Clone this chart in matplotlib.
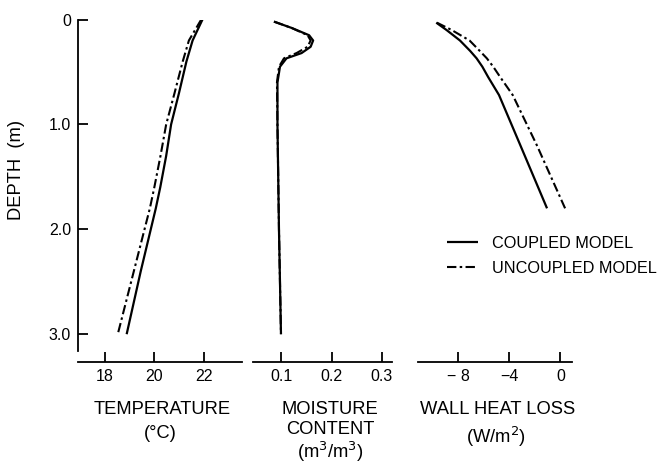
import matplotlib
matplotlib.use("Agg")
import matplotlib.pyplot as plt

plt.rcParams['font.family'] = ['Liberation Sans', 'DejaVu Sans']

# ---- data ----
depth_T = [0.0, 0.1, 0.2, 0.4, 0.7, 1.0, 1.3, 1.6, 1.8, 2.4, 3.0]
T_coupled = [21.95, 21.75, 21.55, 21.3, 21.0, 20.68, 20.48, 20.24, 20.06, 19.45, 18.88]
T_uncoupled = [21.9, 21.65, 21.4, 21.15, 20.82, 20.48, 20.25, 20.0, 19.82, 19.17, 18.52]

depth_M = [0.02, 0.08, 0.15, 0.2, 0.26, 0.32, 0.37, 0.45, 0.6, 1.0, 2.0, 3.0]
M_coupled = [0.085, 0.12, 0.155, 0.163, 0.158, 0.14, 0.11, 0.097, 0.092, 0.092, 0.095, 0.099]
M_uncoupled = [0.085, 0.12, 0.152, 0.158, 0.152, 0.13, 0.105, 0.095, 0.091, 0.092, 0.095, 0.099]

depth_H = [0.03, 0.1, 0.2, 0.3, 0.37, 0.45, 0.55, 0.72, 1.2, 1.8]
H_coupled = [-9.7, -8.9, -7.85, -7.05, -6.55, -6.1, -5.64, -4.8, -3.13, -1.05]
H_uncoupled = [-9.65, -8.5, -7.1, -6.3, -5.75, -5.25, -4.7, -3.73, -1.84, 0.36]

depth_ticks = [0, 1.0, 2.0, 3.0]
depth_ticklabels = ["0", "1.0", "2.0", "3.0"]
T_ticks = [18, 20, 22]
T_ticklabels = ["18", "20", "22"]
M_ticks = [0.1, 0.2, 0.3]
M_ticklabels = ["0.1", "0.2", "0.3"]
H_ticks = [-8, -4, 0]
H_ticklabels = ["\u2212 8", "\u22124", "0"]

legend_labels = ["COUPLED MODEL", "UNCOUPLED MODEL"]

# ---- layout ----
W, H = 663, 466
fig = plt.figure(figsize=(W / 100, H / 100), dpi=100)

def axes_px(x0, x1, y0, y1):
    return fig.add_axes([x0 / W, 1 - y1 / H, (x1 - x0) / W, (y1 - y0) / H])

ytop, ybot = 19.5, 362
ymax = (ybot - ytop) / 104.9
solid_kw = dict(color='black', lw=1.6, solid_capstyle='butt', solid_joinstyle='round')
dash_kw = dict(color='black', lw=1.5, linestyle=(0, (4.5, 1.6, 1.2, 1.6)))

ax1 = axes_px(78, 242, ytop, ybot)
ax2 = axes_px(253, 392, ytop, ybot)
ax3 = axes_px(418, 572, ytop, ybot)

ax1.plot(T_coupled, depth_T, **solid_kw)
ax1.plot(T_uncoupled, depth_T, **dash_kw)
ax1.set_xlim(16.91, 23.55)

ax2.plot(M_coupled, depth_M, **solid_kw)
ax2.plot(M_uncoupled, depth_M, **dash_kw)
ax2.set_xlim(0.0433, 0.32)

l1, = ax3.plot(H_coupled, depth_H, **solid_kw)
l2, = ax3.plot(H_uncoupled, depth_H, **dash_kw)
ax3.set_xlim(-11.125, 0.9)

for ax in (ax1, ax2, ax3):
    ax.set_ylim(ymax, 0)
    ax.set_facecolor('none')
    for s in ('top', 'right'):
        ax.spines[s].set_visible(False)
    ax.spines['bottom'].set_linewidth(1.3)
    ax.tick_params(axis='x', direction='in', length=7, width=1.3, pad=5,
                   labelsize=11.5)

ax1.spines['left'].set_linewidth(1.3)
ax1.spines['left'].set_bounds(0, 3.16)
ax1.set_yticks(depth_ticks)
ax1.set_yticklabels(depth_ticklabels)
ax1.tick_params(axis='y', direction='in', length=7, width=1.3, pad=5,
                labelsize=11.5)
for ax in (ax2, ax3):
    ax.spines['left'].set_visible(False)
    ax.set_yticks([])

ax1.set_xticks(T_ticks)
ax1.set_xticklabels(T_ticklabels)
ax2.set_xticks(M_ticks)
ax2.set_xticklabels(M_ticklabels)
ax3.set_xticks(H_ticks)
ax3.set_xticklabels(H_ticklabels)

# axis labels
lab_fs = 13.2
def ftext(x, y, s, **kw):
    fig.text(x / W, 1 - y / H, s, ha='center', va='center', **kw)

ftext(162, 409, "TEMPERATURE", fontsize=lab_fs)
ftext(160, 434, "(\u00b0C)", fontsize=lab_fs)
ftext(330, 409, "MOISTURE", fontsize=lab_fs)
ftext(330, 430, "CONTENT", fontsize=lab_fs)
ftext(330, 452, "(m$^{3}$/m$^{3}$)", fontsize=lab_fs)
ftext(498, 409, "WALL HEAT LOSS", fontsize=lab_fs)
ftext(496, 437, "(W/m$^{2}$)", fontsize=lab_fs)
ftext(17, 170, "DEPTH  (m)", fontsize=13.2, rotation=90)

fig.legend([l1, l2], legend_labels, loc='upper left',
           bbox_to_anchor=(447 / W, 1 - 236 / H), frameon=False,
           fontsize=11.7, handlelength=1.9, handletextpad=0.85,
           labelspacing=0.6, borderpad=0, borderaxespad=0)

fig.savefig("out.png", dpi=100)
